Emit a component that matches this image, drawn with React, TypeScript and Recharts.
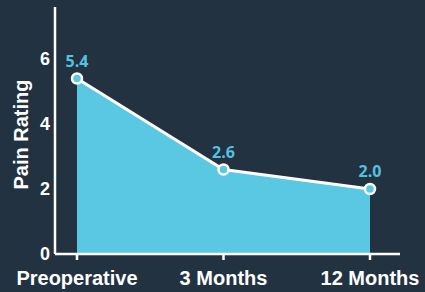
import React from "react";
import { AreaChart, Area, XAxis, YAxis, LabelList } from "recharts";

const categories = ["Preoperative", "3 Months", "12 Months"];
const painValues = [5.4, 2.6, 2.0];
const yTicks = [0, 2, 4, 6];

const data = categories.map((c, i) => ({ name: c, pain: painValues[i] }));

const BG = "#223241";
const FILL = "#5ac8e3";
const LABEL = "#52c2e0";
const FONT = "Liberation Sans, Arial, sans-serif";

export default function App() {
  return (
    <div style={{ position: "fixed", left: 0, top: 0, width: 425, height: 292, background: BG }}>
      <AreaChart width={425} height={292} data={data} margin={{ top: 7, right: 25, bottom: 0, left: 0 }}>
        <XAxis
          dataKey="name"
          height={38}
          padding={{ left: 22, right: 30 }}
          axisLine={{ stroke: "#ffffff", strokeWidth: 2.5 }}
          tickLine={{ stroke: "#ffffff", strokeWidth: 2.5 }}
          tickSize={6}
          tickMargin={11}
          tick={{ fill: "#ffffff", fontSize: 20, fontWeight: 700, fontFamily: FONT }}
          interval={0}
        />
        <YAxis
          width={55}
          domain={[0, 7.6]}
          allowDataOverflow={true}
          ticks={yTicks}
          axisLine={{ stroke: "#ffffff", strokeWidth: 2.5 }}
          tickLine={false}
          tickSize={0}
          tickMargin={5}
          tick={{ fill: "#ffffff", fontSize: 18, fontWeight: 700, fontFamily: FONT }}
          label={{
            value: "Pain Rating",
            angle: -90,
            position: "insideLeft",
            offset: 21,
            dy: 4,
            style: { fill: "#ffffff", fontSize: 20, fontWeight: 700, fontFamily: FONT, textAnchor: "middle" },
          }}
        />
        <Area
          type="linear"
          dataKey="pain"
          stroke="#ffffff"
          strokeWidth={3}
          fill={FILL}
          fillOpacity={1}
          isAnimationActive={false}
          dot={{ r: 5, fill: FILL, stroke: "#ffffff", strokeWidth: 2.5, fillOpacity: 1 }}
        >
          <LabelList
            dataKey="pain"
            position="top"
            offset={12}
            formatter={(v: number) => v.toFixed(1)}
            style={{ fill: LABEL, fontSize: 16, fontWeight: 700, fontFamily: "Open Sans, sans-serif" }}
          />
        </Area>
      </AreaChart>
    </div>
  );
}
